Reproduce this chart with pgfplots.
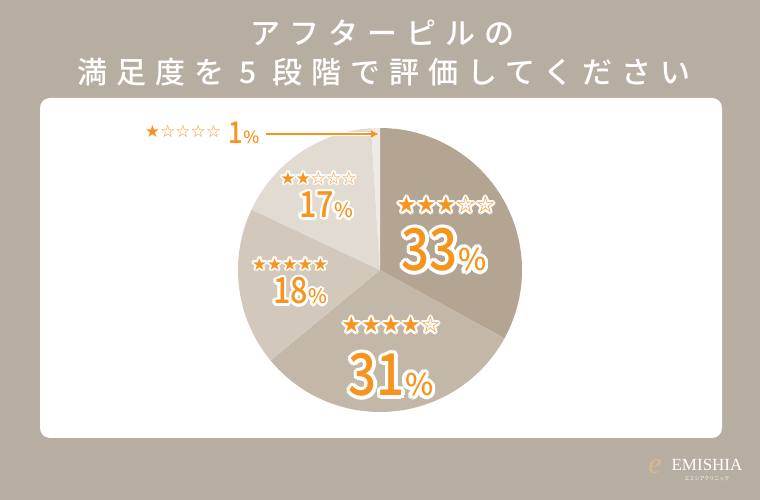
\documentclass[border=0pt]{standalone}
\usepackage{pgfplots}
\pgfplotsset{compat=1.18}
\usetikzlibrary{calc,arrows.meta}
\usepackage{graphicx}
\usepackage{fontspec}
\setmainfont{Noto Sans CJK JP}
\newfontfamily\jpm{Noto Sans CJK JP Medium}
\newfontfamily\sym{DejaVu Sans}
\newfontfamily\serif{Liberation Serif}
\definecolor{bg}{HTML}{B7AEA2}
\definecolor{sA}{HTML}{B4A593}
\definecolor{sB}{HTML}{C3B7A7}
\definecolor{sC}{HTML}{D2C8BB}
\definecolor{sD}{HTML}{E1DBD2}
\definecolor{sE}{HTML}{EEEBE6}
\definecolor{org}{HTML}{F7941D}
\definecolor{gold}{HTML}{D9B98A}
\newcommand{\olabel}[4]{%
  \foreach \a in {0,22.5,...,337.5} {\node[text=white, font=#4, inner sep=0pt] at ($(#1)+(\a:#2)$) {#3};}
  \node[text=org, font=#4, inner sep=0pt] at (#1) {#3};
}
\begin{document}
\begin{tikzpicture}[x=1pt,y=1pt]
\fill[bg] (0,0) rectangle (760,500);
\fill[white, rounded corners=10pt] (40,62) rectangle (722,402);
\node[white, font=\jpm\fontsize{30}{36}\selectfont\addfontfeature{LetterSpace=30}] at (382,467) {アフターピルの};
\node[white, font=\jpm\fontsize{30}{36}\selectfont\addfontfeature{LetterSpace=30}] at (384,428) {満足度を 5 段階で評価してください};
\begin{axis}[at={(238pt,88pt)}, anchor=south west, scale only axis,
  width=284pt, height=284pt, xmin=238, xmax=522, ymin=88, ymax=372,
  hide axis, clip=false]
\addplot[fill=sA, draw=none, domain=90-3.6*33:90, samples=90, variable=\t]
  ({380+142*cos(\t)},{230+142*sin(\t)}) -- (axis cs:380,230) -- cycle;
\addplot[fill=sB, draw=none, domain=90-3.6*64:90-3.6*33, samples=90, variable=\t]
  ({380+142*cos(\t)},{230+142*sin(\t)}) -- (axis cs:380,230) -- cycle;
\addplot[fill=sC, draw=none, domain=90-3.6*82:90-3.6*64, samples=60, variable=\t]
  ({380+142*cos(\t)},{230+142*sin(\t)}) -- (axis cs:380,230) -- cycle;
\addplot[fill=sD, draw=none, domain=90-3.6*99:90-3.6*82, samples=60, variable=\t]
  ({380+142*cos(\t)},{230+142*sin(\t)}) -- (axis cs:380,230) -- cycle;
\addplot[fill=sE, draw=none, domain=90-3.6*100:90-3.6*99, samples=10, variable=\t]
  ({380+142*cos(\t)},{230+142*sin(\t)}) -- (axis cs:380,230) -- cycle;
\end{axis}
% 1% label and arrow
\node[text=org, font=\sym\fontsize{17}{17}\selectfont, inner sep=0pt] at (183,369) {★☆☆☆☆};
\node[text=org, font=\jpm\fontsize{30}{30}\selectfont, inner sep=0pt] at (244,367) {\scalebox{0.85}[1]{1}{\fontsize{17}{17}\selectfont\%}};
\draw[white, line width=4pt] (266,366) -- (376,366);
\draw[org, line width=1.3pt, -{Triangle[length=7pt,width=7pt]}] (266,366) -- (378,366);
% slice labels
\olabel{318.5,322}{1.8pt}{★★☆☆☆}{\sym\fontsize{17}{17}\selectfont}
\olabel{326,295}{2.4pt}{\scalebox{0.85}[1]{17}{\fontsize{20}{20}\selectfont\%}}{\jpm\fontsize{36}{36}\selectfont}
\olabel{446,295}{2.2pt}{★★★☆☆}{\sym\fontsize{22}{22}\selectfont}
\olabel{444,250}{3.3pt}{\scalebox{0.85}[1]{33}{\fontsize{30}{30}\selectfont\%}}{\jpm\fontsize{58}{58}\selectfont}
\olabel{290,236}{1.8pt}{★★★★★}{\sym\fontsize{17}{17}\selectfont}
\olabel{300,209}{2.4pt}{\scalebox{0.85}[1]{18}{\fontsize{20}{20}\selectfont\%}}{\jpm\fontsize{36}{36}\selectfont}
\olabel{391,175}{2.2pt}{★★★★☆}{\sym\fontsize{22}{22}\selectfont}
\olabel{391,125}{3.3pt}{\scalebox{0.85}[1]{31}{\fontsize{30}{30}\selectfont\%}}{\jpm\fontsize{58}{58}\selectfont}
% logo
\node[text=gold, font=\serif\itshape\fontsize{30}{30}\selectfont, inner sep=0pt] at (655,33) {e};
\node[white, font=\serif\fontsize{17}{17}\selectfont, inner sep=0pt] at (707,35) {EMISHIA};
\node[white, font=\fontsize{5}{5}\selectfont, inner sep=0pt] at (707,21) {エミシアクリニック};
\end{tikzpicture}
\end{document}
